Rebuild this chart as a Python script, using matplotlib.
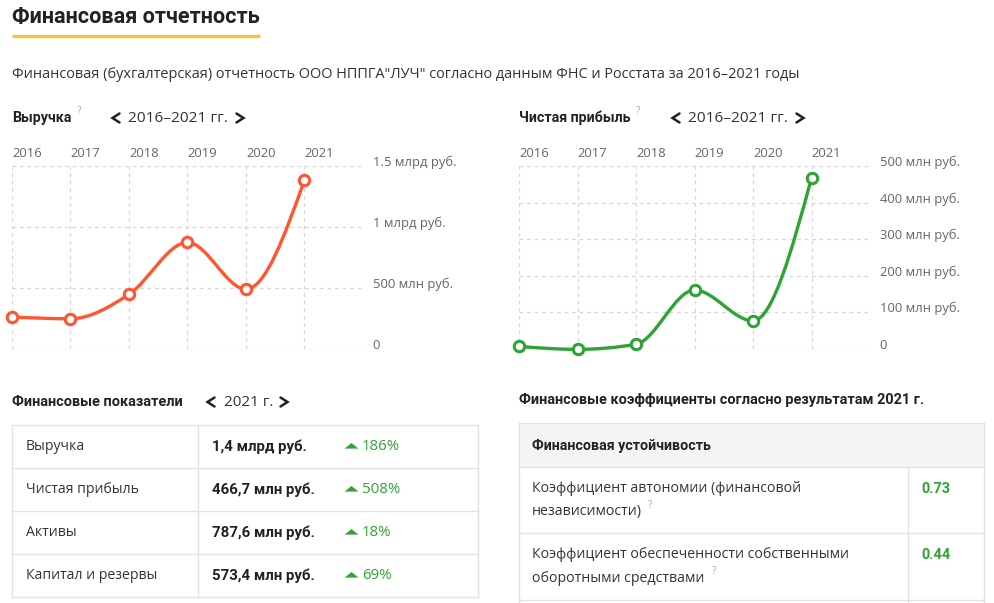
import numpy as np
import matplotlib
matplotlib.use("Agg")
import matplotlib.pyplot as plt
from matplotlib.path import Path
from matplotlib.patches import PathPatch, Rectangle

plt.rcParams['font.family'] = ['Open Sans', 'DejaVu Sans']
BOLD_FONT = ['Roboto', 'DejaVu Sans']

# --- данные ---
years = [2016, 2017, 2018, 2019, 2020, 2021]
revenue_mln = [262, 248, 448, 874, 490, 1385]      # Выручка, млн руб.
profit_mln = [7, -1, 13, 161, 77, 467]             # Чистая прибыль, млн руб.

rev_ticks = [0, 500, 1000, 1500]
rev_tick_labels = ['0', '500 млн руб.', '1 млрд руб.', '1.5 млрд руб.']
prof_ticks = [0, 100, 200, 300, 400, 500]
prof_tick_labels = ['0', '100 млн руб.', '200 млн руб.', '300 млн руб.',
                    '400 млн руб.', '500 млн руб.']

ind_names = ['Выручка', 'Чистая прибыль', 'Активы', 'Капитал и резервы']
ind_values = ['1,4 млрд руб.', '466,7 млн руб.', '787,6 млн руб.', '573,4 млн руб.']
ind_growth = ['186%', '508%', '18%', '69%']

coef_group = 'Финансовая устойчивость'
coef_names = [['Коэффициент автономии (финансовой', 'независимости)'],
              ['Коэффициент обеспеченности собственными', 'оборотными средствами']]
coef_values = ['0.73', '0.44']

RED = '#ff5532'
GREEN = '#2fa336'
DARK = '#222222'
TEXT = '#333333'
GRAY = '#666666'
LINE = '#e2e2e2'

W, H = 995, 603
fig = plt.figure(figsize=(W / 100, H / 100), dpi=100)
fig.patch.set_facecolor('white')

# фон в пиксельных координатах
bg = fig.add_axes([0, 0, 1, 1], zorder=0)
bg.set_xlim(0, W)
bg.set_ylim(H, 0)
bg.axis('off')


def pt(px):
    return px * 0.72


def txt(x, y, s, size=14, **kw):
    kw.setdefault('color', TEXT)
    kw.setdefault('va', 'center')
    bg.text(x, y, s, fontsize=pt(size), **kw)


def btxt(x, y, s, size=14, **kw):
    kw.setdefault('color', DARK)
    txt(x, y, s, size=size, weight='bold', family=BOLD_FONT, **kw)


def chevron(x, y, left=True):
    d = 3.5 if left else -3.5
    bg.plot([x + d, x - d, x + d], [y - 4.5, y, y + 4.5], color=DARK, lw=1.8,
            solid_capstyle='round', solid_joinstyle='miter')


def monotone_path(xs, ys):
    # кривая как d3.curveMonotoneX
    xs = np.asarray(xs, float)
    ys = np.asarray(ys, float)
    n = len(xs)
    h = np.diff(xs)
    s = np.diff(ys) / h
    t = np.zeros(n)
    for i in range(1, n - 1):
        p = (s[i - 1] * h[i] + s[i] * h[i - 1]) / (h[i - 1] + h[i])
        t[i] = (np.sign(s[i - 1]) + np.sign(s[i])) * min(abs(s[i - 1]), abs(s[i]), 0.5 * abs(p))
    t[0] = (3 * s[0] - t[1]) / 2
    t[-1] = (3 * s[-1] - t[-2]) / 2
    verts = [(xs[0], ys[0])]
    codes = [Path.MOVETO]
    for i in range(n - 1):
        dx = h[i] / 3
        verts += [(xs[i] + dx, ys[i] + dx * t[i]),
                  (xs[i + 1] - dx, ys[i + 1] - dx * t[i + 1]),
                  (xs[i + 1], ys[i + 1])]
        codes += [Path.CURVE4] * 3
    return Path(verts, codes)


def line_chart(left_px, values, ymax, ticks, labels, color):
    ax = fig.add_axes([left_px / W, 1 - 349 / H, 351 / W, 183 / H], zorder=2)
    ax.set_xlim(2016, 2022)
    ax.set_ylim(0, ymax)
    for sp in ax.spines.values():
        sp.set_visible(False)
    ax.set_xticks(years)
    ax.set_xticklabels([str(y) for y in years])
    ax.xaxis.tick_top()
    ax.set_yticks(ticks)
    ax.set_yticklabels(labels)
    ax.yaxis.tick_right()
    ax.tick_params(length=0, labelsize=pt(13), labelcolor=GRAY)
    ax.tick_params(axis='x', pad=4)
    ax.tick_params(axis='y', pad=7)
    plt.setp(ax.get_xticklabels(), ha='left')
    plt.setp(ax.get_yticklabels(), va='baseline')
    ax.grid(True, color='#d6d6d6', lw=0.9, ls=(0, (3, 3)))
    ax.patch.set_visible(False)
    ax.add_patch(PathPatch(monotone_path(years, values), fc='none', ec=color,
                           lw=2.4, clip_on=False, zorder=3, capstyle='round'))
    ax.plot(years, values, 'o', ms=7.5, mfc='white', mec=color, mew=2.2,
            clip_on=False, zorder=4)
    return ax


# --- заголовок ---
btxt(12, 17, 'Финансовая отчетность', size=21.6)
bg.plot([12, 260], [36, 36], color='#f6c343', lw=2.4, solid_capstyle='butt')
txt(12, 74, 'Финансовая (бухгалтерская) отчетность ООО НППГА"ЛУЧ" согласно данным '
    'ФНС и Росстата за 2016–2021 годы', size=14.5)

# --- графики ---
btxt(12, 118, 'Выручка', size=14.2)
txt(77, 112, '?', size=10, color='#aaaaaa')
chevron(116, 118)
txt(128, 118, '2016–2021 гг.', size=15.4)
chevron(240, 118, left=False)
line_chart(12, revenue_mln, 1500, rev_ticks, rev_tick_labels, RED)

btxt(519, 118, 'Чистая прибыль', size=14.2)
txt(636, 112, '?', size=10, color='#aaaaaa')
chevron(676, 118)
txt(688, 118, '2016–2021 гг.', size=15.4)
chevron(800, 118, left=False)
line_chart(519, profit_mln, 500, prof_ticks, prof_tick_labels, GREEN)

# --- финансовые показатели ---
btxt(12, 402, 'Финансовые показатели', size=14.5)
chevron(211, 402)
txt(224, 402, '2021 г.', size=15.2)
chevron(284, 402, left=False)

tri = [(-1, -0.3), (1, -0.3), (0, 0.5), (-1, -0.3)]
row_edges = [425, 468, 511, 554, 597]
for y in row_edges:
    bg.plot([12, 478], [y, y], color=LINE, lw=1)
for x in [12, 198, 478]:
    bg.plot([x, x], [row_edges[0], row_edges[-1]], color=LINE, lw=1)
for i, name in enumerate(ind_names):
    yc = (row_edges[i] + row_edges[i + 1]) / 2
    txt(26, yc, name, size=14)
    btxt(212, yc, ind_values[i], size=15)
    bg.plot(351, yc - 1, marker=tri, ms=10, color=GREEN, mec='none')
    txt(362, yc, ind_growth[i], size=15, color=GREEN)

# --- финансовые коэффициенты ---
btxt(519, 400, 'Финансовые коэффициенты согласно результатам 2021 г.', size=14.5)
bg.add_patch(Rectangle((519, 423), 465, 44, fc='#f3f4f6', ec='none'))
btxt(532, 446, coef_group, size=14.3)
c_edges = [423, 467, 533, 600]
for y in c_edges:
    bg.plot([519, 984], [y, y], color=LINE, lw=1)
for x in [519, 984]:
    bg.plot([x, x], [423, H], color=LINE, lw=1)
bg.plot([908, 908], [467, H], color=LINE, lw=1)
for i, lines in enumerate(coef_names):
    y0 = c_edges[i + 1] + 22
    txt(532, y0, lines[0], size=14.1)
    txt(532, y0 + 23, lines[1], size=14.1)
    btxt(921, y0, coef_values[i], size=14.5, color=GREEN)
txt(648, 505, '?', size=10, color='#aaaaaa')
txt(712, 572, '?', size=10, color='#aaaaaa')

fig.savefig('out.png', dpi=100, facecolor='white')
